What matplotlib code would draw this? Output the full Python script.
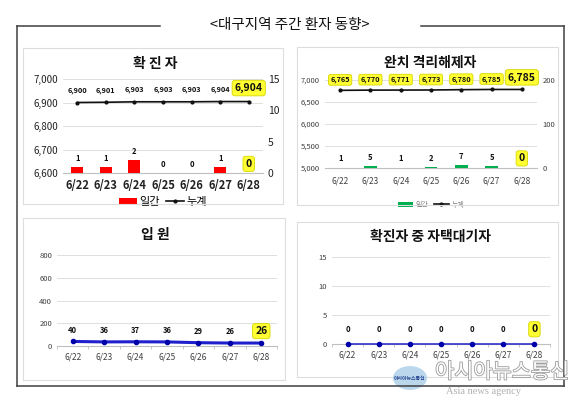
''' 대구지역 주간 환자 동향 '''
import matplotlib
matplotlib.use('Agg')
import matplotlib.pyplot as plt
from matplotlib.patches import Rectangle, Circle
from matplotlib.lines import Line2D
import matplotlib.patheffects as pe

plt.rcParams['font.family'] = ['Noto Sans CJK KR', 'DejaVu Sans']

# 데이터
dates = ['6/22', '6/23', '6/24', '6/25', '6/26', '6/27', '6/28']
conf_daily = [1, 1, 2, 0, 0, 1, 0]
conf_total = [6900, 6901, 6903, 6903, 6903, 6904, 6904]
rec_daily = [1, 5, 1, 2, 7, 5, 0]
rec_total = [6765, 6770, 6771, 6773, 6780, 6785, 6785]
hosp = [40, 36, 37, 36, 29, 26, 26]
home_wait = [0, 0, 0, 0, 0, 0, 0]

W, H = 580, 407
GRID = '#D9D9D9'
YEL = dict(boxstyle='round,pad=0.25', fc='#FFFF33', ec='#D6D600', lw=0.6)


def px(x0, y0, x1, y1):
    return [x0 / W, 1 - y1 / H, (x1 - x0) / W, (y1 - y0) / H]


def box(x0, y0, x1, y1):
    fig.add_artist(Rectangle((x0 / W, 1 - y1 / H), (x1 - x0) / W, (y1 - y0) / H,
                             transform=fig.transFigure, fill=False,
                             ec='#DDDDDD', lw=0.8))


def style(ax, tcolor='#222222', tsize=6):
    for s in ['top', 'left', 'right']:
        ax.spines[s].set_visible(False)
    ax.spines['bottom'].set_color('#BFBFBF')
    ax.tick_params(axis='y', length=0, labelsize=tsize, colors=tcolor)
    ax.tick_params(axis='x', length=0)
    ax.grid(axis='y', color=GRID, lw=0.6)
    ax.set_axisbelow(True)
    ax.set_facecolor('none')


def labels(ax, xs, ys, vals, fmt, dy, size, last_size, box_all=False):
    for i, (x, y, v) in enumerate(zip(xs, ys, vals)):
        last = i == len(vals) - 1
        ax.annotate(fmt.format(v), (x, y), xytext=(0, dy), textcoords='offset points',
                    ha='center', va='bottom', fontsize=last_size if last else size,
                    fontweight='bold', color='#111111',
                    bbox=YEL if (last or box_all) else None, zorder=6)


fig = plt.figure(figsize=(W / 100, H / 100), dpi=100)
fig.patch.set_facecolor('white')
idx = list(range(len(dates)))

# 전체 테두리
fc = '#404040'
for xs, ys in [([17, 160], [26, 26]), ([421, 564], [26, 26]),
               ([17, 17], [26, 386]), ([564, 564], [26, 386]), ([17, 564], [386, 386])]:
    fig.add_artist(Line2D([x / W for x in xs], [1 - y / H for y in ys],
                          transform=fig.transFigure, color=fc, lw=1.1))
fig.text(290 / W, 1 - 25 / H, '<대구지역 주간 환자 동향>', ha='center', va='center',
         fontsize=10.5, color='#111111')

box(23, 48, 283, 204)
box(297, 47, 558, 205)
box(23, 218, 285, 380)
box(297, 222, 558, 377)

# 1. 확진자
fig.text(155 / W, 1 - 64 / H, '확 진 자', ha='center', va='center',
         fontsize=10, fontweight='bold', color='#111111')
ax1 = fig.add_axes(px(63, 79, 263, 173))
style(ax1, tsize=7)
ax1.set_ylim(6600, 7000)
ax1.set_yticks([6600, 6700, 6800, 6900, 7000])
ax1.set_yticklabels(['{:,}'.format(v) for v in ax1.get_yticks()])
ax1.set_xlim(-0.5, 6.5)
ax1.set_xticks(idx)
ax1.set_xticklabels(dates, fontsize=8, fontweight='bold', color='#222222')
ax1.tick_params(axis='x', pad=4)
ax1.plot(idx, conf_total, color='#111111', lw=1.2, marker='o', ms=2, zorder=4)
labels(ax1, idx, conf_total, conf_total, '{:,}', 6, 5.3, 7.5)
ax1b = ax1.twinx()
ax1b.set_ylim(0, 15)
ax1b.set_yticks([0, 5, 10, 15])
for s in ['top', 'left', 'right', 'bottom']:
    ax1b.spines[s].set_visible(False)
ax1b.tick_params(axis='y', length=0, labelsize=7.5, colors='#222222')
bars1 = ax1b.bar(idx, conf_daily, width=0.42, color='#FF0000', label='일간')
labels(ax1b, idx, conf_daily, conf_daily, '{}', 3, 5.5, 7.5)
h_line = Line2D([], [], color='#111111', lw=1.2, marker='o', ms=2, label='누계')
ax1b.legend(handles=[bars1, h_line], loc='upper center', bbox_to_anchor=(0.5, -0.2),
            ncol=2, frameon=False, fontsize=8, handlelength=1.6, handletextpad=0.2,
            columnspacing=0.6, borderpad=0)

# 2. 완치 격리해제자
fig.text(430 / W, 1 - 63 / H, '완치 격리해제자', ha='center', va='center',
         fontsize=10, fontweight='bold', color='#111111')
ax2 = fig.add_axes(px(325, 80, 537, 168))
style(ax2, tcolor='#404040', tsize=5.5)
ax2.set_ylim(5000, 7000)
ax2.set_yticks([5000, 5500, 6000, 6500, 7000])
ax2.set_yticklabels(['{:,}'.format(v) for v in ax2.get_yticks()])
ax2.set_xlim(-0.5, 6.5)
ax2.set_xticks(idx)
ax2.set_xticklabels(dates, fontsize=6, color='#404040')
ax2.tick_params(axis='x', pad=6)
ax2.plot(idx, rec_total, color='#111111', lw=1.2, marker='o', ms=2, zorder=4)
labels(ax2, idx, rec_total, rec_total, '{:,}', 5, 5.3, 7.5, box_all=True)
ax2b = ax2.twinx()
ax2b.set_ylim(0, 200)
ax2b.set_yticks([0, 100, 200])
for s in ['top', 'left', 'right', 'bottom']:
    ax2b.spines[s].set_visible(False)
ax2b.tick_params(axis='y', length=0, labelsize=5.5, colors='#404040', pad=4)
bars2 = ax2b.bar(idx, rec_daily, width=0.42, color='#00B050', label='일간')
labels(ax2b, idx, [max(v, 1) for v in rec_daily], rec_daily, '{}', 3, 5.5, 7.5)
h_line2 = Line2D([], [], color='#111111', lw=1.2, marker='o', ms=2, label='누계')
leg2 = ax2b.legend(handles=[bars2, h_line2], loc='upper center', bbox_to_anchor=(0.5, -0.33),
                   ncol=2, frameon=False, fontsize=5, handlelength=2.2, handletextpad=0.3,
                   columnspacing=0.8, borderpad=0)
for t in leg2.get_texts():
    t.set_color('#808080')

# 3. 입원
fig.text(155 / W, 1 - 235 / H, '입 원', ha='center', va='center',
         fontsize=10, fontweight='bold', color='#111111')
ax3 = fig.add_axes(px(57, 255, 277, 346))
style(ax3, tcolor='#404040', tsize=5.5)
ax3.set_ylim(0, 800)
ax3.set_yticks([0, 200, 400, 600, 800])
ax3.set_xlim(-0.5, 6.5)
ax3.set_xticks(idx)
ax3.set_xticklabels(dates, fontsize=6, color='#404040')
ax3.set_xticks([i + 0.5 for i in range(-1, 7)], minor=True)
ax3.tick_params(axis='x', which='minor', length=2.5, color='#BFBFBF')
ax3.tick_params(axis='x', pad=5)
ax3.plot(idx, hosp, color='#1F1FCC', lw=2.2, marker='o', ms=3, mfc='#0000AA', mec='#0000AA', zorder=4)
labels(ax3, idx, hosp, hosp, '{}', 5, 5.5, 7.5)

# 4. 확진자 중 자택대기자
fig.text(430 / W, 1 - 237 / H, '확진자 중 자택대기자', ha='center', va='center',
         fontsize=10, fontweight='bold', color='#111111')
ax4 = fig.add_axes(px(332, 257, 550, 344))
style(ax4, tcolor='#404040', tsize=5.5)
ax4.set_ylim(0, 15)
ax4.set_yticks([0, 5, 10, 15])
ax4.set_xlim(-0.5, 6.5)
ax4.set_xticks(idx)
ax4.set_xticklabels(dates, fontsize=6, color='#404040')
ax4.set_xticks([i + 0.5 for i in range(-1, 7)], minor=True)
ax4.tick_params(axis='x', which='minor', length=2.5, color='#BFBFBF')
ax4.tick_params(axis='x', pad=5)
ax4.plot(idx, home_wait, color='#3333CC', lw=1.2, marker='o', ms=3, mfc='#0000AA', mec='#0000AA',
         zorder=4, clip_on=False)
labels(ax4, idx, home_wait, home_wait, '{}', 7, 5.5, 7.5)

# 워터마크
fig.add_artist(Circle((410 / W, 1 - 378 / H), 17 / W, transform=fig.transFigure,
                      fc='#A9CDE8', ec='none', alpha=0.8))
fig.text(410 / W, 1 - 378 / H, '아시아뉴스통신', ha='center', va='center',
         fontsize=3.5, color='#1F3F8F', fontweight='bold')
fig.text(502 / W, 1 - 372 / H, '아시아뉴스통신', ha='center', va='center', fontsize=15,
         color='white', path_effects=[pe.withStroke(linewidth=1.2, foreground='#9A9A9A')])
fig.text(483 / W, 1 - 392 / H, 'Asia news agency', ha='center', va='center', fontsize=7.5,
         family=['Liberation Serif', 'DejaVu Serif'], color='#B0B0B0')

plt.savefig('out.png', dpi=100)
